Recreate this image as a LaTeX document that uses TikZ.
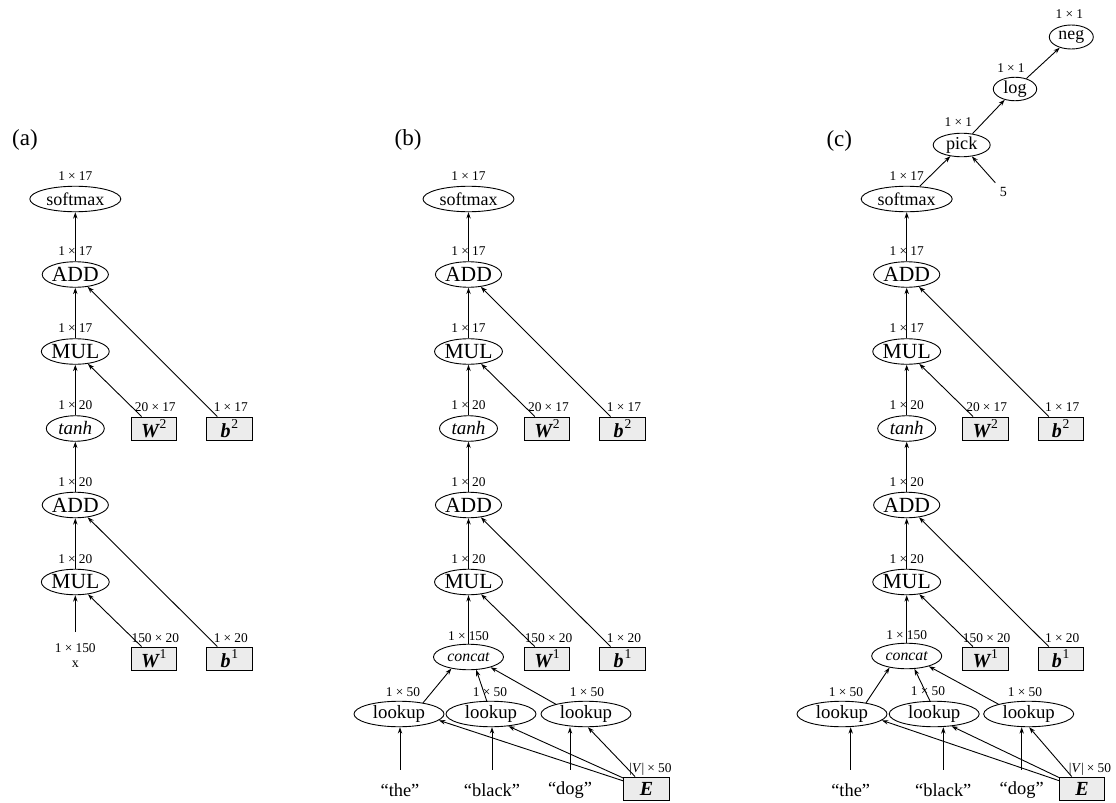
\documentclass[tikz,border=0pt]{standalone}
\usepackage{fontspec}
\setmainfont{Liberation Serif}
\usetikzlibrary{shapes.geometric,arrows.meta}
\newcommand{\fs}[1]{\fontsize{#1}{#1}\selectfont}
\newcommand{\X}{\hspace{0.24em}×\hspace{0.24em}}
\newcommand{\bi}[2]{{\bfseries\itshape #1}\kern0.4pt\raisebox{0.42em}{\fontsize{6.8}{6.8}\selectfont #2}}
\tikzset{
  op/.style={ellipse,draw,line width=0.45pt,inner sep=0pt,minimum height=12.75pt},
  prm/.style={rectangle,draw,line width=0.45pt,fill=gray!15,inner sep=0pt,minimum width=22.75pt,minimum height=11.5pt,font=\fs{10}},
  lab/.style={inner sep=0pt,font=\fs{6.7}},
  word/.style={inner sep=0pt,minimum height=20pt,font=\fs{9.2}},
  arr/.style={-{Stealth[length=3.2pt,width=2.2pt]},line width=0.45pt},
  ttl/.style={inner sep=0pt,font=\fs{11.5}},
}
\newcommand{\mkchain}[2]{%
  \node[op,minimum width=45.5pt,font=\fs{9}] (#1soft) at (#2,199) {softmax};
  \node[lab] (#1softL) at (#2,176) {1\X17};
  \node[op,minimum width=29pt,font=\fs{10.8}] (#1add2) at (#2,274.5) {ADD};
  \node[lab] (#1add2L) at (#2,251.5) {1\X17};
  \node[op,minimum width=29pt,font=\fs{10.8}] (#1mul2) at (#2,351.5) {MUL};
  \node[lab] (#1mul2L) at (#2,328.5) {1\X17};
  \node[op,minimum width=29pt,font=\fs{9.5}\itshape] (#1tanh) at (#2,428.5) {tanh};
  \node[lab] (#1tanhL) at (#2,405.5) {1\X20};
  \node[prm] (#1W2) at ({#2+78.5},428.5) {\bi{W}{2}};
  \node[lab] (#1W2L) at ({#2+80},407) {20\X17};
  \node[prm] (#1b2) at ({#2+154},428.5) {\bi{b}{2}};
  \node[lab] (#1b2L) at ({#2+155.5},407) {1\X17};
  \node[op,minimum width=29pt,font=\fs{10.8}] (#1add1) at (#2,505) {ADD};
  \node[lab] (#1add1L) at (#2,482) {1\X20};
  \node[op,minimum width=29pt,font=\fs{10.8}] (#1mul1) at (#2,582) {MUL};
  \node[lab] (#1mul1L) at (#2,559) {1\X20};
  \node[prm] (#1W1) at ({#2+78.5},658.5) {\bi{W}{1}};
  \node[lab] (#1W1L) at ({#2+80},638.5) {150\X20};
  \node[prm] (#1b1) at ({#2+154},658.5) {\bi{b}{1}};
  \node[lab] (#1b1L) at ({#2+155.5},638.5) {1\X20};
  \draw[arr] (#1add2) -- (#1soft);
  \draw[arr] (#1mul2) -- (#1add2);
  \draw[arr] (#1tanh) -- (#1mul2);
  \draw[arr] (#1add1) -- (#1tanh);
  \draw[arr] (#1mul1) -- (#1add1);
  \draw[arr] (#1W2) -- (#1mul2);
  \draw[arr] (#1b2) -- (#1add2);
  \draw[arr] (#1W1) -- (#1mul1);
  \draw[arr] (#1b1) -- (#1add1);
}
\begin{document}
\begin{tikzpicture}[x=0.5pt,y=-0.5pt]
\useasboundingbox (0,0) rectangle (1116,803);
% ---------- (a)
\node[ttl] (ta) at (25,140) {(a)};
\mkchain{a}{75.3}
\coordinate (aIn) at (75.3,632);
\node[lab] (aInL) at (75.3,648) {1\X150};
\node[lab,font=\fs{7}] (aX) at (75.3,664) {x};
\draw[arr] (aIn) -- (amul1);
% ---------- (b)
\node[ttl] (tb) at (408,140) {(b)};
\mkchain{b}{468.5}
\node[op,minimum width=35pt,font=\fs{7.9}\itshape] (bcon) at (468.5,657) {concat};
\node[lab] (bconL) at (468.5,636) {1\X150};
\node[op,minimum width=45pt,font=\fs{9.4}] (blk1) at (399,714) {lookup};
\node[op,minimum width=45pt,font=\fs{9.4}] (blk2) at (491,714) {lookup};
\node[op,minimum width=45pt,font=\fs{9.4}] (blk3) at (586,714) {lookup};
\node[lab] (blk1L) at (403,692) {1\X50};
\node[lab] (blk2L) at (490,692) {1\X50};
\node[lab] (blk3L) at (587,692) {1\X50};
\node[word] (bthe) at (400,790) {“the”};
\node[word] (bblack) at (492,790) {“black”};
\node[word] (bdog) at (570,790) {“dog”};
\node[prm] (bE) at (646.5,788.5) {{\bfseries\itshape E}};
\node[lab] (bEL) at (650.5,769) {|\textit{V}|\X50};
\draw[arr] (bcon) -- (bmul1);
\draw[arr] (blk1.25) -- (bcon.214);
\draw[arr] (blk2.108) -- (bcon.301);
\draw[arr] (blk3.162) -- (bcon.335);
\draw[arr] (bthe.north) -- (bthe.north |- blk1.south);
\draw[arr] (bblack.north) -- (bblack.north |- blk2.south);
\draw[arr] (bdog.north) -- (bdog.north |- blk3.south);
\draw[arr] (bE) -- (blk1.-9);
\draw[arr] (bE) -- (blk2.-35);
\draw[arr] (bE) -- (blk3.-82);
% ---------- (c)
\node[ttl] (tc) at (839.3,141) {(c)};
\mkchain{c}{906.7}
\node[op,minimum width=28.5pt,minimum height=11.75pt,font=\fs{9.1}] (cpick) at (961.7,145) {pick};
\node[lab] (cpickL) at (958.3,122) {1\X1};
\node[op,minimum width=21.7pt,minimum height=11.75pt,font=\fs{9.1}] (clog) at (1015,89) {log};
\node[lab] (clogL) at (1011,68.3) {1\X1};
\node[op,minimum width=22pt,minimum height=12pt,font=\fs{8.9}] (cneg) at (1071.3,37) {neg};
\node[lab] (cnegL) at (1069.3,14) {1\X1};
\node[lab,inner sep=2pt,font=\fs{7}] (cfive) at (1003.3,191.7) {5};
\draw[arr] (csoft) -- (cpick);
\draw[arr] (cfive) -- (cpick);
\draw[arr] (cpick) -- (clog);
\draw[arr] (clog) -- (cneg);
\node[op,minimum width=35pt,font=\fs{7.9}\itshape] (ccon) at (906.7,656) {concat};
\node[lab] (cconL) at (906.7,635) {1\X150};
\node[op,minimum width=45pt,font=\fs{9.4}] (clk1) at (842,714) {lookup};
\node[op,minimum width=45pt,font=\fs{9.4}] (clk2) at (934.2,714) {lookup};
\node[op,minimum width=45pt,font=\fs{9.4}] (clk3) at (1028.7,714) {lookup};
\node[lab] (clk1L) at (846,692) {1\X50};
\node[lab] (clk2L) at (928,691) {1\X50};
\node[lab] (clk3L) at (1025,692) {1\X50};
\node[word] (cthe) at (850.7,790) {“the”};
\node[word] (cblack) at (943.3,790) {“black”};
\node[word] (cdog) at (1021.7,790) {“dog”};
\node[prm] (cE) at (1082,788.5) {{\bfseries\itshape E}};
\node[lab] (cEL) at (1090,769) {|\textit{V}|\X50};
\draw[arr] (ccon) -- (cmul1);
\draw[arr] (clk1.25) -- (ccon.214);
\draw[arr] (clk2.108) -- (ccon.301);
\draw[arr] (clk3.162) -- (ccon.335);
\draw[arr] (cthe.north) -- (cthe.north |- clk1.south);
\draw[arr] (cblack.north) -- (cblack.north |- clk2.south);
\draw[arr] (cdog.north) -- (cdog.north |- clk3.south);
\draw[arr] (cE) -- (clk1.-9);
\draw[arr] (cE) -- (clk2.-35);
\draw[arr] (cE) -- (clk3.-88);
\end{tikzpicture}
\end{document}
